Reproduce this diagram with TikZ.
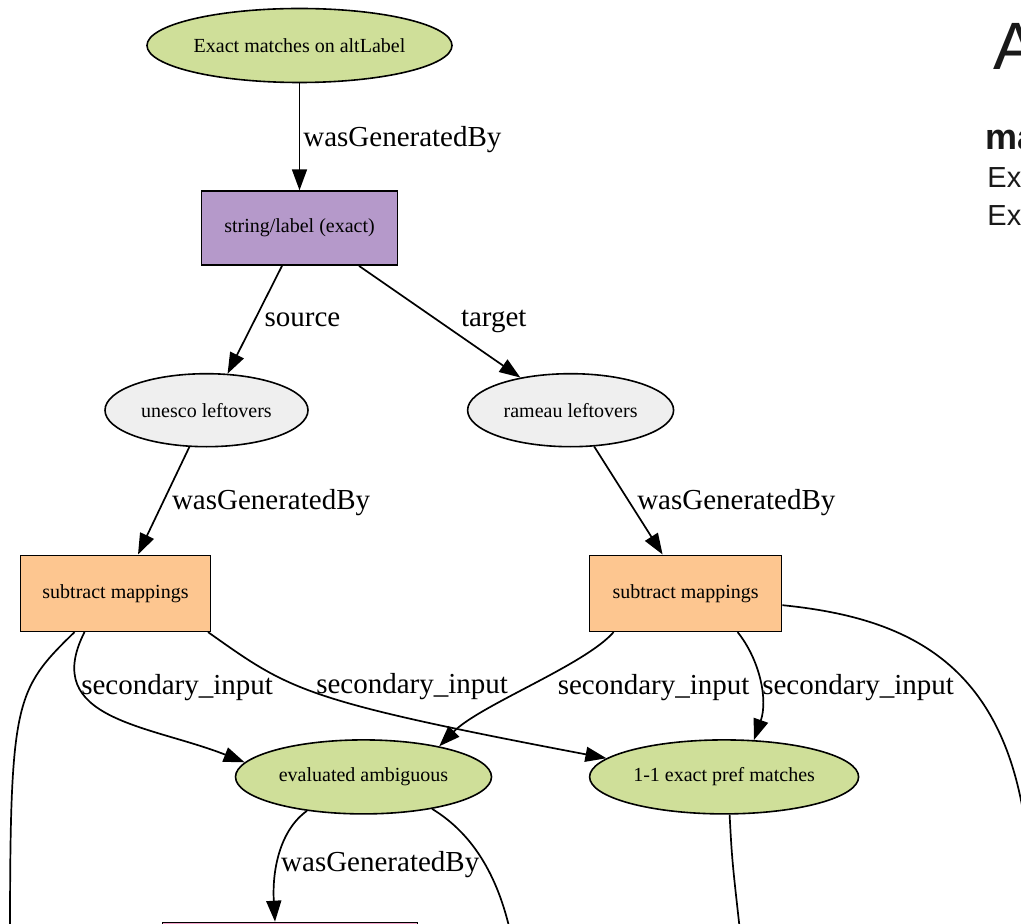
\documentclass[tikz,border=0pt]{standalone}
\usepackage{fontspec}
\setmainfont{Liberation Serif}
\newfontfamily\legendfont{Liberation Sans}
\usepackage{tikz}
\usetikzlibrary{arrows.meta,positioning,shapes.geometric}
\definecolor{entgreen}{HTML}{CFDF99}
\definecolor{restgrey}{HTML}{EFEFEF}
\definecolor{actpurple}{HTML}{B599CA}
\definecolor{suborange}{HTML}{FDC690}
\definecolor{actpink}{HTML}{F2A2C8}

\begin{document}
\begin{tikzpicture}[x=0.5pt,y=-0.5pt,node distance = 53.5pt and 79pt,
    entity/.style={ellipse,draw=black,line width=0.8pt,fill=entgreen,minimum height=37pt,inner sep=0pt,font=\fontsize{10}{12}\selectfont},
    activity/.style={rectangle,draw=black,line width=0.8pt,minimum height=37pt,inner sep=0pt,font=\fontsize{10}{12}\selectfont},
    rel/.style={line width=0.85pt,-{Triangle[length=10.5pt,width=7.5pt]}},
    flow/.style={line width=0.85pt},
    relname/.style={inner sep=0pt,anchor=west,font=\fontsize{14.5}{17}\selectfont},
    legendtxt/.style={inner sep=0pt,anchor=base west,text=black!90},
   ]

    \clip (0,0) rectangle (1021,924);

    \node (altlabel) [entity,minimum width=152.5pt] at (299.5,45.5) {Exact matches on altLabel};
    \node (strlabel) [activity,fill=actpurple,minimum width=98pt,below=of altlabel] {string/label (exact)};
    \node (unesco)   [entity,fill=restgrey,minimum width=101.5pt,minimum height=36.5pt,below=of strlabel,xshift=-46.5pt] {unesco leftovers};
    \node (rameau)   [entity,fill=restgrey,minimum width=103pt,minimum height=36.5pt,right=of unesco] {rameau leftovers};

    \node (subunesco) [activity,fill=suborange,minimum width=95pt,minimum height=38pt,below=of unesco,xshift=-45.5pt] {subtract mappings};
    \node (subrameau) [activity,fill=suborange,minimum width=96pt,minimum height=38pt,below=of rameau,xshift=57.5pt] {subtract mappings};

    \node (ambig)     [entity,minimum width=128pt,below=of subunesco,xshift=124pt] {evaluated ambiguous};
    \node (prefmatch) [entity,minimum width=134.5pt,below=of subrameau,xshift=19.25pt] {1-1 exact pref matches};
    \node (pinkact)   [activity,fill=actpink,minimum width=127.5pt,below=of ambig,xshift=-36.75pt] {};

    \coordinate (offleft)  at (10,940);
    \coordinate (offright) at (1030,940);
    \coordinate (offmid)   at (512,940);
    \coordinate (offpref)  at (741,940);

    \node (title)   [legendtxt,font=\legendfont\fontsize{33.5}{40}\selectfont] at (993,70) {A};
    \node (maphead) [legendtxt,font=\legendfont\bfseries\fontsize{18}{21}\selectfont] at (985,150) {ma};
    \node (mapone)  [legendtxt,font=\legendfont\fontsize{14.5}{18}\selectfont] at (987,188) {Ex};
    \node (maptwo)  [legendtxt,font=\legendfont\fontsize{14.5}{18}\selectfont] at (987,226) {Ex};

    \draw[rel] (altlabel.south) -- (strlabel.north)
        node[relname,midway,xshift=1.5pt,yshift=-1.25pt] {wasGeneratedBy};
    \draw[rel] ([xshift=-8.75pt]strlabel.south) -- (unesco.60)
        node[relname,midway,xshift=4.5pt] {source};
    \draw[rel] ([xshift=29.75pt]strlabel.south) -- (rameau.147)
        node[relname,midway,xshift=10.25pt] {target};
    \draw[rel] (unesco.245) -- ([xshift=11.25pt]subunesco.north)
        node[relname,midway,xshift=3.75pt,yshift=-1pt] {wasGeneratedBy};
    \draw[rel] (rameau.303) -- ([xshift=-11.5pt]subrameau.north)
        node[relname,midway,xshift=4pt,yshift=-1pt] {wasGeneratedBy};

    \draw[flow] ([xshift=-20.5pt]subunesco.south) .. controls (15,690) and (10,700) .. (offleft);
    \draw[rel] ([xshift=-15.5pt]subunesco.south) .. controls (40,720) and (150,725) .. (ambig.173)
        node[relname,pos=0.25,xshift=1.5pt,yshift=-1.5pt] {secondary\_input};
    \draw[rel] ([xshift=46.25pt]subunesco.south) .. controls (290,690) and (300,700) .. (prefmatch.171)
        node[relname,pos=0.4,xshift=10pt,yshift=-1pt] {secondary\_input};
    \draw[rel] ([xshift=-36pt]subrameau.south) .. controls (585,665) and (480,705) .. (ambig.22)
        node[relname,pos=0.5,xshift=13pt,yshift=-1pt] {secondary\_input};
    \draw[rel] ([xshift=26pt]subrameau.south) .. controls (760,660) and (768,700) .. (prefmatch.51)
        node[relname,pos=0.5,xshift=1pt,yshift=-3pt] {secondary\_input};
    \draw[flow] (subrameau.353) .. controls (930,620) and (1040,680) .. (offright);

    \draw[rel] (ambig.211) .. controls (280,830) and (272,870) .. ([xshift=-7.5pt]pinkact.north)
        node[relname,pos=0.55,xshift=1pt,yshift=-2.5pt] {wasGeneratedBy};
    \draw[flow] (ambig.335) .. controls (475,835) and (500,880) .. (offmid);
    \draw[flow] ([xshift=2.75pt]prefmatch.south) .. controls (732,860) .. (offpref);
\end{tikzpicture}
\end{document}
